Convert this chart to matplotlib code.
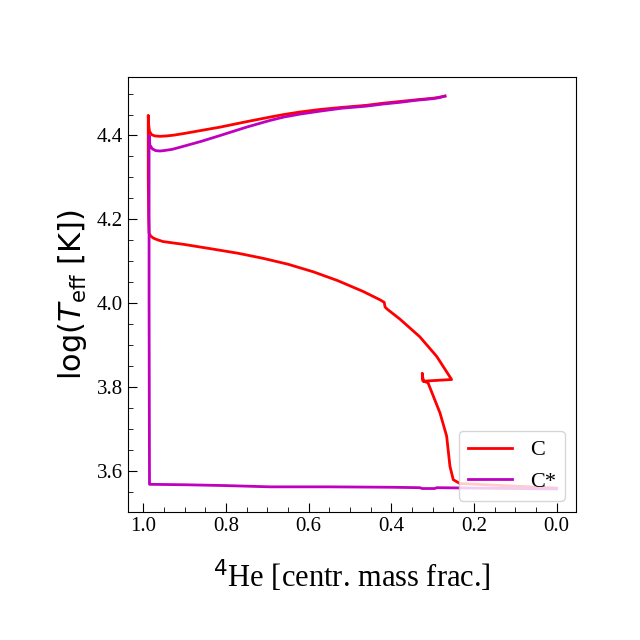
import matplotlib
matplotlib.use("Agg")
import matplotlib.pyplot as plt
from matplotlib.ticker import MultipleLocator

plt.rcParams['font.family'] = ['Liberation Serif', 'DejaVu Serif']
plt.rcParams['mathtext.fontset'] = 'dejavusans'

# Track C
he_c = [0.27, 0.285, 0.298, 0.34, 0.38, 0.42, 0.46, 0.52, 0.573, 0.621, 0.66, 0.693,
        0.75, 0.814, 0.86, 0.90, 0.925, 0.943, 0.960, 0.972,
        0.980, 0.985, 0.987, 0.988, 0.988, 0.987, 0.986, 0.982, 0.975, 0.965, 0.952, 0.90,
        0.831, 0.77, 0.710, 0.65, 0.589, 0.530, 0.468, 0.427, 0.417, 0.415, 0.41, 0.379,
        0.331, 0.290, 0.254,
        0.323, 0.325, 0.323, 0.311, 0.282, 0.266, 0.258, 0.250, 0.234, 0.15, 0.0]
teff_c = [4.494, 4.491, 4.489, 4.485, 4.481, 4.477, 4.472, 4.467, 4.462, 4.456, 4.450, 4.444,
          4.433, 4.420, 4.412, 4.405, 4.401, 4.399, 4.398, 4.399,
          4.402, 4.41, 4.425, 4.448, 4.30, 4.20, 4.167, 4.160, 4.155, 4.151, 4.147, 4.140,
          4.129, 4.119, 4.107, 4.093, 4.075, 4.054, 4.028, 4.008, 4.002, 3.991, 3.986, 3.962,
          3.92, 3.873, 3.818,
          3.814, 3.833, 3.815, 3.81, 3.738, 3.683, 3.611, 3.579, 3.570, 3.566, 3.559]

# Track C*
he_cs = [0.27, 0.285, 0.298, 0.34, 0.38, 0.42, 0.46, 0.52, 0.573, 0.621, 0.66, 0.693,
         0.75, 0.814, 0.86, 0.90, 0.93, 0.95,
         0.96, 0.970, 0.978, 0.984, 0.986, 0.986, 0.985, 0.982, 0.90, 0.80, 0.693, 0.55,
         0.40, 0.331, 0.325, 0.295, 0.29, 0.20, 0.10, 0.0]
teff_cs = [4.494, 4.490, 4.488, 4.484, 4.479, 4.475, 4.470, 4.465, 4.458, 4.451, 4.444, 4.436,
           4.420, 4.400, 4.386, 4.375, 4.367, 4.364,
           4.363, 4.364, 4.368, 4.377, 4.40, 4.0, 3.568, 3.568, 3.567, 3.565, 3.562, 3.562,
           3.561, 3.560, 3.558, 3.558, 3.560, 3.559, 3.558, 3.557]

fig = plt.figure(figsize=(6.4, 6.4), dpi=100)
ax = fig.add_axes([0.2, 0.2, 0.7, 0.68])
ax.plot(he_c, teff_c, color='r', lw=2, label='C')
ax.plot(he_cs, teff_cs, color='m', lw=2, label='C*')

ax.set_xlim(1.037, -0.047)
ax.set_ylim(3.502, 4.54)
ax.xaxis.set_major_locator(MultipleLocator(0.2))
ax.xaxis.set_minor_locator(MultipleLocator(0.05))
ax.yaxis.set_major_locator(MultipleLocator(0.2))
ax.yaxis.set_minor_locator(MultipleLocator(0.05))
ax.tick_params(which='both', direction='in', labelsize=15)
ax.tick_params(which='major', length=6.5)
ax.tick_params(which='minor', length=3.5)

ax.set_xlabel(r'$^4$He [centr. mass frac.]', fontsize=22, labelpad=16)
ax.set_ylabel(r'log($T_{\rm eff}$ [K])', fontsize=22, family='DejaVu Sans', labelpad=6)
ax.legend(loc='lower right', fontsize=16)

fig.savefig('out.png', dpi=100)
